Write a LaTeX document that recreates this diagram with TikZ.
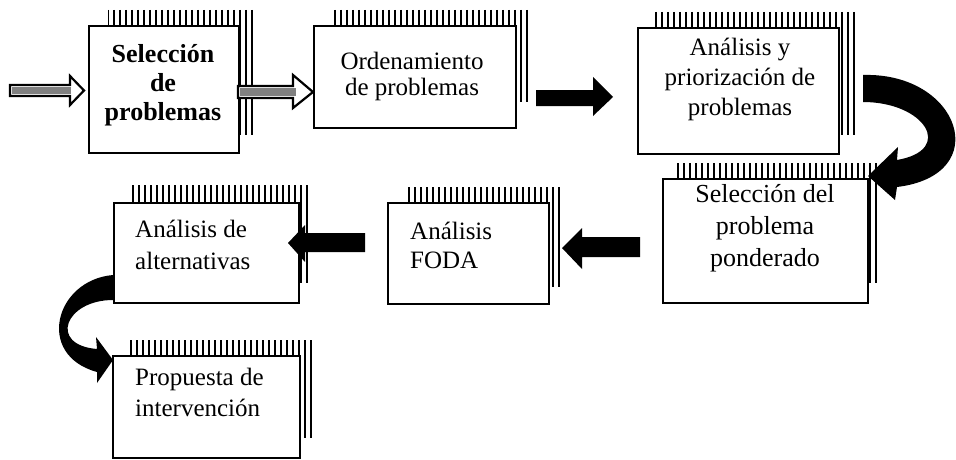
\documentclass[tikz,border=0pt]{standalone}
\usepackage{fontspec}
\setmainfont{Liberation Serif}
\newcommand\shbox[9]{%
  \begin{scope}
    \clip (#6,#7) rectangle (#8,#9);
    \foreach \k in {0,...,40}{\draw[hatch] ({#8-1.3-6*\k},#7) -- ({#8-1.3-6*\k},#9);}
  \end{scope}
  \node[box, anchor=north west, minimum width={(#4-#2)*1pt}, minimum height={(#5-#3)*1pt}] (#1) at (#2,#3) {};
}
\begin{document}
\begin{tikzpicture}[x=1pt,y=-1pt,
  box/.style={draw=black, line width=2pt, fill=white, inner sep=0pt},
  hatch/.style={line width=2.4pt, black},
  tc/.style={align=center, inner sep=0pt, anchor=north},
  tl/.style={align=left, inner sep=0pt, anchor=north west},
  blockarrow/.style={fill=black},
  grayarrow/.style={draw=black, line width=2.2pt, fill=white, line join=miter},
  grayshaft/.style={fill=black!50}]
\useasboundingbox (0,0) rectangle (956,460);

% boxes with hatched shadows
\shbox{b1}{88}{25}{238}{152}{108}{10}{253}{135}
\shbox{b2}{313}{25}{515}{127}{330}{10}{528}{102}
\shbox{b3}{637}{27}{838}{153}{653}{12}{855}{135}
\shbox{b4}{662}{178}{867}{302}{677}{163}{877}{283}
\shbox{b5}{387}{202}{548}{303}{405}{187}{560}{287}
\shbox{b6}{113}{202}{298}{302}{130}{185}{308}{283}
\shbox{b7}{112}{355}{299}{457}{130}{340}{312}{438}

% texts
\node[tc, font=\fontsize{26}{29}\selectfont\bfseries] (t1) at (163,44) {Selección\\de\\problemas};
\node[tc, font=\fontsize{25}{26}\selectfont] (t2) at (412,52) {Ordenamiento\\de problemas};
\node[tc, font=\fontsize{25}{30}\selectfont] (t3) at (740,38) {Análisis y\\priorización de\\problemas};
\node[tc, font=\fontsize{26}{32}\selectfont] (t4) at (765,184) {Selección del\\problema\\ponderado};
\node[tl, font=\fontsize{25}{29}\selectfont] (t5) at (410,222) {Análisis\\FODA};
\node[tl, font=\fontsize{25}{32}\selectfont] (t6) at (135,220) {Análisis de\\alternativas};
\node[tl, font=\fontsize{25}{31}\selectfont] (t7) at (135,368) {Propuesta de\\intervención};

% textured arrows
\draw[grayarrow] (10,85) -- (70,85) -- (70,76) -- (84,90.5) -- (70,105) -- (70,96) -- (10,96) -- cycle;
\fill[grayshaft] (12,87.5) rectangle (71,93.5);
\draw[grayarrow] (238,86) -- (293,86) -- (293,75) -- (313,92) -- (293,108) -- (293,98) -- (238,98) -- cycle;
\fill[grayshaft] (240,88.5) rectangle (296,95.5);

% black block arrows
\fill[blockarrow] (536,90) -- (593,90) -- (593,77) -- (613,97) -- (593,116) -- (593,106) -- (536,106) -- cycle;
\fill[blockarrow] (640,237) -- (582,237) -- (582,228) -- (562,248) -- (582,269) -- (582,257) -- (640,257) -- cycle;
\fill[blockarrow] (365,233) -- (305,233) -- (305,225) -- (288,243) -- (305,262) -- (305,252) -- (365,252) -- cycle;

% curved arrows
\fill[blockarrow] (863,75) .. controls (960,72) and (995,175) .. (897,187) -- (895,200) -- (868,176) -- (898,147) -- (897,160) .. controls (955,150) and (925,102) .. (863,102) -- cycle;
\fill[blockarrow] (113,275) .. controls (55,280) and (35,355) .. (97,372) -- (97,383) -- (113,360) -- (96,337) -- (97,349) .. controls (48,345) and (65,300) .. (113,300) -- cycle;
\end{tikzpicture}
\end{document}
